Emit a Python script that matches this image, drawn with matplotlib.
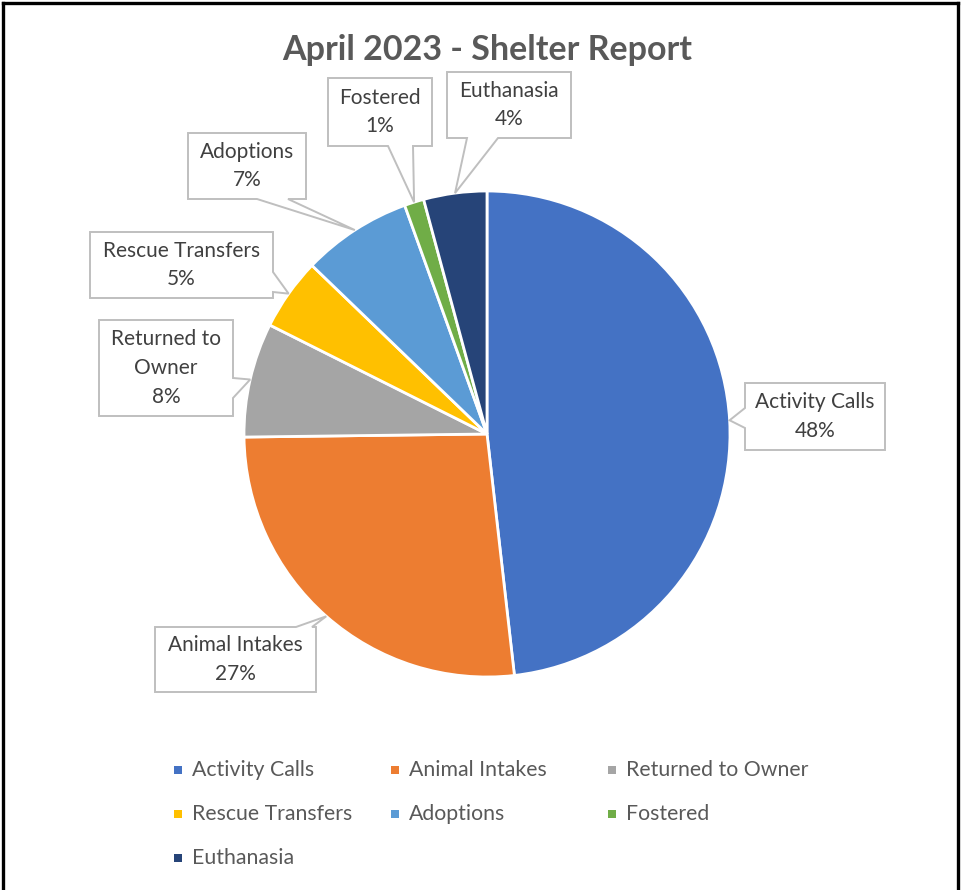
import matplotlib.pyplot as plt
from matplotlib.patches import Polygon
from matplotlib.lines import Line2D
import numpy as np

plt.rcParams['font.family'] = ['Lato', 'DejaVu Sans']

categories = ["Activity Calls", "Animal Intakes", "Returned to Owner",
              "Rescue Transfers", "Adoptions", "Fostered", "Euthanasia"]
values = [48.2, 26.6, 7.6, 4.8, 7.3, 1.3, 4.2]
colors = ["#4472C4", "#ED7D31", "#A5A5A5", "#FFC000", "#5B9BD5", "#70AD47", "#264478"]
label_names = ["Activity Calls", "Animal Intakes", "Returned to\nOwner",
               "Rescue Transfers", "Adoptions", "Fostered", "Euthanasia"]

W, H = 962, 890
fig = plt.figure(figsize=(W / 100, H / 100), dpi=100)
ax = fig.add_axes([0, 0, 1, 1])


def Y(y):
    # image coords (from top) -> axes coords (from bottom)
    return H - y


cx, cy, r = 487, 434, 243
wedges, _ = ax.pie(values, colors=colors, startangle=90, counterclock=False,
                   center=(cx, Y(cy)), radius=r,
                   wedgeprops=dict(edgecolor="white", linewidth=2))
ax.set_xlim(0, W)
ax.set_ylim(0, H)
ax.set_aspect("equal")
ax.axis("off")

# callout boxes: (left, top, right, bottom), edge with pointer, base span on that edge
callouts = [
    ((745, 383, 885, 450), "left", (408, 428)),
    ((155, 627, 316, 692), "top", (296, 312)),
    ((99, 320, 233, 416), "right", (378, 398)),
    ((90, 232, 273, 298), "right", (272, 292)),
    ((188, 133, 306, 199), "bottom", (257, 288)),
    ((328, 78, 432, 146), "bottom", (388, 413)),
    ((447, 72, 571, 138), "bottom", (467, 498)),
]

total = sum(values)
for w, name, val, (box, edge, base) in zip(wedges, label_names, values, callouts):
    mid = np.deg2rad((w.theta1 + w.theta2) / 2)
    tip = (cx + r * np.cos(mid), Y(cy) + r * np.sin(mid))
    l, t, rr, b = box
    l, rr, t, b = l, rr, Y(t), Y(b)
    pts = [(l, t), (rr, t)]
    if edge == "right":
        pts += [(rr, Y(base[0])), tip, (rr, Y(base[1]))]
    pts += [(rr, b)]
    if edge == "bottom":
        pts += [(base[1], b), tip, (base[0], b)]
    pts += [(l, b)]
    if edge == "left":
        pts += [(l, Y(base[1])), tip, (l, Y(base[0]))]
    if edge == "top":
        pts_top = [(l, t), (base[0], t), tip, (base[1], t)]
        pts = pts_top + pts[1:]
    ax.add_patch(Polygon(pts, closed=True, facecolor="white", edgecolor="#BFBFBF",
                         linewidth=1.4, zorder=5))
    ax.text((l + rr) / 2, (t + b) / 2, f"{name}\n{round(val / total * 100)}%",
            ha="center", va="center", fontsize=15, color="#404040",
            linespacing=1.55, zorder=6)

ax.text(487, Y(50), "April 2023 - Shelter Report", ha="center", va="center",
        fontsize=24.5, fontweight="bold", color="#595959")

# legend, three columns
leg_x = [178, 395, 612]
leg_y = [770, 814, 858]
for i, (cat, col) in enumerate(zip(categories, colors)):
    x = leg_x[i % 3]
    y = leg_y[i // 3]
    ax.scatter([x], [Y(y)], marker="s", s=34, color=col, linewidths=0)
    ax.text(x + 14, Y(y), cat, ha="left", va="center", fontsize=15.3, color="#595959")

# outer black frame
for xs, ys in [((3, 3), (0, H - 3)), ((3, 958), (H - 3, H - 3)), ((958, 958), (0, H - 3))]:
    fig.add_artist(Line2D(xs, ys, transform=None, color="black", linewidth=2.4))

fig.savefig("out.png", dpi=100)
